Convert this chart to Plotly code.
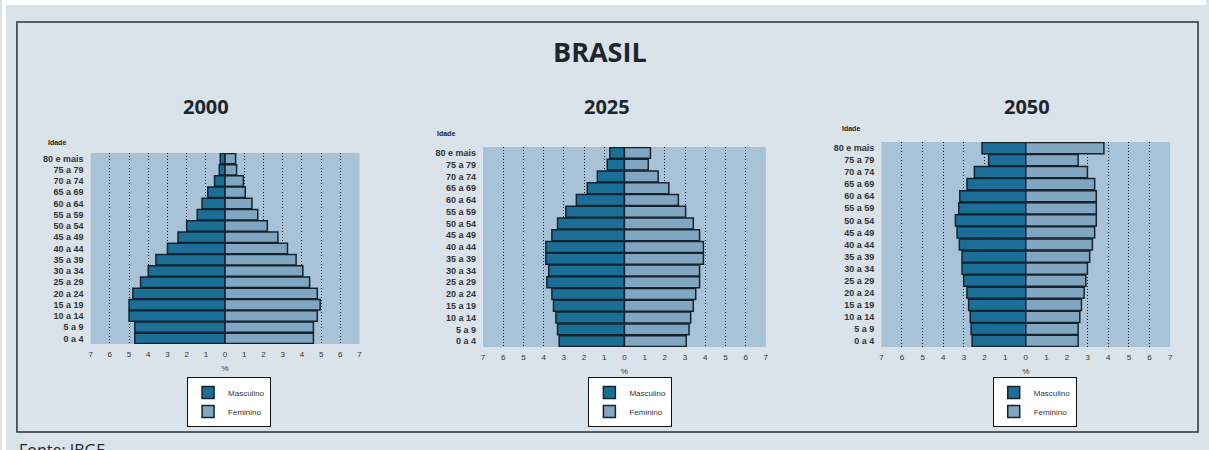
import plotly.graph_objects as go

# ---------------- data ----------------
ages = ["0 a 4", "5 a 9", "10 a 14", "15 a 19", "20 a 24", "25 a 29", "30 a 34",
        "35 a 39", "40 a 44", "45 a 49", "50 a 54", "55 a 59", "60 a 64",
        "65 a 69", "70 a 74", "75 a 79", "80 e mais"]
years = ["2000", "2025", "2050"]

masc_2000 = [4.7, 4.7, 5.0, 5.0, 4.8, 4.4, 4.0, 3.6, 3.0, 2.45, 2.0, 1.45, 1.2, 0.9, 0.55, 0.3, 0.25]
fem_2000 = [4.6, 4.6, 4.8, 4.95, 4.8, 4.4, 4.05, 3.7, 3.25, 2.75, 2.2, 1.7, 1.4, 1.05, 0.95, 0.6, 0.55]

masc_2025 = [3.23, 3.31, 3.39, 3.51, 3.59, 3.84, 3.75, 3.89, 3.89, 3.59, 3.31, 2.9, 2.38, 1.84, 1.34, 0.85, 0.72]
fem_2025 = [3.06, 3.2, 3.28, 3.41, 3.53, 3.72, 3.72, 3.91, 3.91, 3.72, 3.41, 3.03, 2.67, 2.2, 1.67, 1.18, 1.29]

masc_2050 = [2.6, 2.65, 2.69, 2.77, 2.85, 3.01, 3.09, 3.09, 3.22, 3.33, 3.41, 3.25, 3.2, 2.85, 2.49, 1.8, 2.12]
fem_2050 = [2.54, 2.54, 2.62, 2.7, 2.83, 2.91, 2.99, 3.1, 3.23, 3.34, 3.42, 3.42, 3.42, 3.34, 2.99, 2.54, 3.79]

masc = [masc_2000, masc_2025, masc_2050]
fem = [fem_2000, fem_2025, fem_2050]

tick_vals = list(range(-7, 8))
tick_text = [str(abs(v)) for v in tick_vals]

# ---------------- layout geometry (pixels) ----------------
W, H = 1209, 450
def px_x(v):
    return v / W
def px_y(v):
    return 1 - v / H

x_domains = [(89, 359), (483, 767), (883, 1173)]
y_domains = [(153, 344), (147, 347), (142, 347)]
title_pos = [(205, 107), (608, 107), (1029, 107)]
idade_pos = [(55, 143), (446, 134), (853, 129)]
legend_pos = [(228, 377), (631, 377), (1037, 377)]

C_MASC = "#1b6f96"
C_FEM = "#80a6c1"
C_LINE = "#15232e"
BG = "#dae2ea"
PLOT_BG = "#a8c3d7"
TXT = "#2a2f35"

fig = go.Figure()

for i in range(3):
    ax = "" if i == 0 else str(i + 1)
    leg = "legend" if i == 0 else f"legend{i + 1}"
    fig.add_trace(go.Bar(
        y=ages, x=[-v for v in masc[i]], orientation="h", name="Masculino",
        marker=dict(color=C_MASC, line=dict(color=C_LINE, width=1.5)),
        customdata=masc[i], hovertemplate="%{y}: %{customdata}%<extra>Masculino</extra>",
        xaxis="x" + ax, yaxis="y" + ax, legend=leg,
    ))
    fig.add_trace(go.Bar(
        y=ages, x=fem[i], orientation="h", name="Feminino",
        marker=dict(color=C_FEM, line=dict(color=C_LINE, width=1.5)),
        customdata=fem[i], hovertemplate="%{y}: %{customdata}%<extra>Feminino</extra>",
        xaxis="x" + ax, yaxis="y" + ax, legend=leg,
    ))

layout = dict(
    width=W, height=H,
    margin=dict(l=0, r=0, t=0, b=0),
    paper_bgcolor=BG, plot_bgcolor=PLOT_BG,
    barmode="relative", bargap=0.07,
    font=dict(family="Liberation Sans, Arial, sans-serif", color=TXT),
    showlegend=True,
)

for i in range(3):
    ax = "" if i == 0 else str(i + 1)
    x0, x1 = x_domains[i]
    yt, yb = y_domains[i]
    layout["xaxis" + ax] = dict(
        domain=[px_x(x0), px_x(x1)], anchor="y" + ax,
        range=[-7, 7], tickvals=tick_vals, ticktext=tick_text,
        tickfont=dict(size=8, color="#333"), ticks="", ticklabelstandoff=4,
        showgrid=True, gridcolor="#1c1c1c", griddash="1px,2px", gridwidth=1,
        zeroline=False, showline=False, fixedrange=True,
        title=dict(text="%", font=dict(size=8, color="#333"), standoff=7),
    )
    layout["yaxis" + ax] = dict(
        domain=[px_y(yb), px_y(yt)], anchor="x" + ax,
        type="category", categoryorder="array", categoryarray=ages,
        range=[-0.5, len(ages) - 0.5],
        tickfont=dict(size=9, color="#333", weight="bold"), ticks="",
        ticklabelstandoff=6, showgrid=False, zeroline=False, showline=False,
        fixedrange=True,
    )
    leg = "legend" if i == 0 else f"legend{i + 1}"
    lx, ly = legend_pos[i]
    layout[leg] = dict(
        x=px_x(lx), y=px_y(ly), xanchor="center", yanchor="top",
        bgcolor="white", bordercolor="#111", borderwidth=1,
        font=dict(size=8, color="#333"), tracegroupgap=0,
        itemwidth=30, traceorder="normal",
    )

fig.update_layout(**layout)

annotations = [
    dict(text="<b>BRASIL</b>", x=px_x(600), y=px_y(52), xref="paper", yref="paper",
         xanchor="center", yanchor="middle", showarrow=False,
         font=dict(family="Open Sans, sans-serif", size=27, color="#1e252c")),
    dict(text="Fonte: IBGE", x=px_x(15), y=px_y(437), xref="paper", yref="paper",
         xanchor="left", yanchor="top", showarrow=False,
         font=dict(family="Open Sans, sans-serif", size=16, color="#1e252c")),
]
for i in range(3):
    tx, ty = title_pos[i]
    annotations.append(dict(text=f"<b>{years[i]}</b>", x=px_x(tx), y=px_y(ty),
                            xref="paper", yref="paper", xanchor="center", yanchor="middle",
                            showarrow=False,
                            font=dict(family="Open Sans, sans-serif", size=20, color="#1e252c")))
    ix, iy = idade_pos[i]
    annotations.append(dict(text="<b>Idade</b>", x=px_x(ix), y=px_y(iy),
                            xref="paper", yref="paper", xanchor="center", yanchor="middle",
                            showarrow=False, font=dict(size=7, color="#222")))

shapes = [
    dict(type="rect", xref="paper", yref="paper", x0=0, x1=1, y0=px_y(5), y1=1,
         fillcolor="white", line=dict(width=0), layer="below"),
    dict(type="rect", xref="paper", yref="paper", x0=0, x1=px_x(4), y0=0, y1=1,
         fillcolor="white", line=dict(width=0), layer="below"),
    dict(type="rect", xref="paper", yref="paper", x0=px_x(15), x1=px_x(1201),
         y0=px_y(432), y1=px_y(22), line=dict(color="#2a333d", width=1.5),
         fillcolor="rgba(0,0,0,0)", layer="above"),
]

fig.update_layout(annotations=annotations, shapes=shapes)

fig.write_html(
    "out.html",
    config={"displayModeBar": False},
    post_script="document.body.style.margin='0px';document.body.style.overflow='hidden';",
)
